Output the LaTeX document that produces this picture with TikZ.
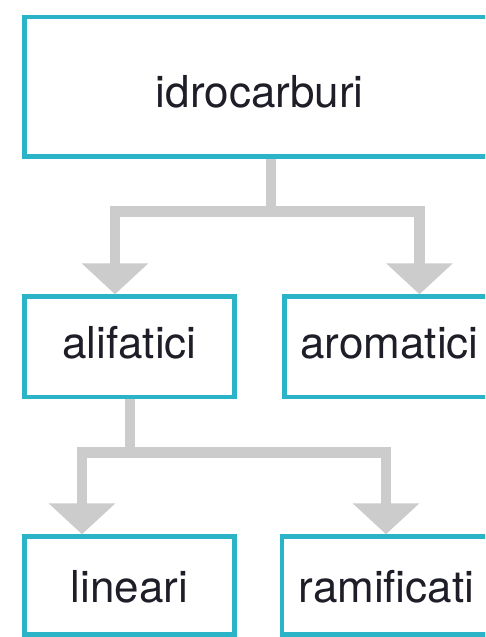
\documentclass[tikz,border=0pt]{standalone}
\usepackage{fontspec}
\setmainfont{TeX Gyre Heros}
\usetikzlibrary{arrows.meta}
\definecolor{teal1}{RGB}{43,180,200}
\definecolor{conngray}{RGB}{204,204,204}
\definecolor{txt}{RGB}{30,30,40}
\tikzset{
  box/.style={draw=teal1, line width=4.5pt, rectangle, inner sep=0pt, fill=white,
    text=txt, font=\fontsize{44}{50}\selectfont, text height=31.7pt, text depth=0pt},
  conn/.style={draw=conngray, line width=10.5pt},
  arr/.style={conn, -{Triangle[width=65pt,length=31pt]}}
}
\newcommand{\shiftdown}[2]{\raisebox{#1}{#2}}
\begin{document}
\begin{tikzpicture}[x=1pt,y=-1pt]
\useasboundingbox (0,0) rectangle (485,637);
\clip (0,0) rectangle (485,637);
\fill[white] (0,0) rectangle (485,637);
% boxes
\node[box, minimum width=470.5pt, minimum height=139.5pt] (top) at (259.75,86.75) {\shiftdown{-4.4pt}{idrocarburi}};
\node[box, minimum width=210pt, minimum height=100.5pt] (alif) at (129.5,346.75) {\shiftdown{4.6pt}{alifatici}};
\node[box, minimum width=210pt, minimum height=100.5pt] (arom) at (389.5,346.75) {\shiftdown{4.6pt}{aromatici}};
\node[box, minimum width=210pt, minimum height=98pt] (lin) at (129.5,585.5) {\shiftdown{-1.4pt}{lineari}};
\node[box, minimum width=209pt, minimum height=98pt] (ram) at (386.5,585.5) {\shiftdown{-1.4pt}{ramificati}};
% first tier connectors
\coordinate (j1) at (271,211.7);
\draw[conn] (top.south -| j1) -- (j1);
\draw[arr] (j1) -| ([xshift=-14.5pt]alif.north);
\draw[arr] (j1) -| ([xshift=30pt]arom.north);
% second tier connectors
\coordinate (j2) at (130,452.5);
\draw[conn] (alif.south -| j2) -- (j2);
\draw[arr] (j2) -| ([xshift=-47.5pt]lin.north);
\draw[arr] (j2) -| ([xshift=-0.5pt]ram.north);
\end{tikzpicture}
\end{document}
